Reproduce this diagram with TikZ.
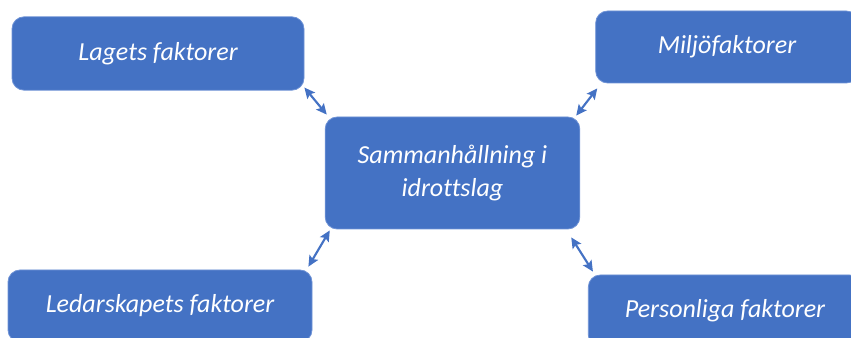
\documentclass[tikz,border=0pt]{standalone}
\usepackage{fontspec}
\setmainfont[Ligatures=NoCommon]{Carlito}
\usetikzlibrary{arrows.meta, positioning}
\definecolor{boxcolor}{HTML}{4472C4}
\definecolor{edgecolor}{HTML}{6F93D6}

\tikzset{
    factorbox/.style={rectangle, rounded corners=9pt, fill=boxcolor, draw=edgecolor, line width=0.6pt,
        text=white, font=\fontsize{19.5}{25}\selectfont\itshape, align=center, inner sep=0pt},
    link/.style={{Stealth[length=8pt,width=7.5pt,inset=1.5pt]}-{Stealth[length=8pt,width=7.5pt,inset=1.5pt]}, line width=1.6pt, boxcolor}
}

\begin{document}
\begin{tikzpicture}[x=0.75pt, y=-0.75pt]

    % Frame
    \useasboundingbox (0,0) rectangle (851,338);
    \clip (0,0) rectangle (851,338);

    % Central box
    \node[factorbox, minimum width=191pt, minimum height=84pt] (core) at (452.5,173) {Sammanhållning i\\idrottslag};

    % Factor boxes
    \node[factorbox, minimum width=219pt, minimum height=55pt] (team) at (158,53.5) {Lagets faktorer};
    \node[factorbox, minimum width=197pt, minimum height=54pt] (env) at (727,47) {Miljöfaktorer};
    \node[factorbox, minimum width=228pt, minimum height=54pt] (lead) at (160,306) {Ledarskapets faktorer};
    \node[factorbox, minimum width=205pt, minimum height=54pt] (pers) at (725,311) {Personliga faktorer};

    % Links
    \draw[link] ([shift={(0,-3)}]team.south east) -- ([shift={(2,-2)}]core.north west);
    \draw[link] ([shift={(2,5)}]env.south west) -- ([shift={(-4,-1)}]core.north east);
    \draw[link] ([shift={(-4,-3)}]lead.north east) -- ([shift={(5,1)}]core.south west);
    \draw[link] ([shift={(5,-3)}]pers.north west) -- ([shift={(-9,8)}]core.south east);

\end{tikzpicture}
\end{document}
